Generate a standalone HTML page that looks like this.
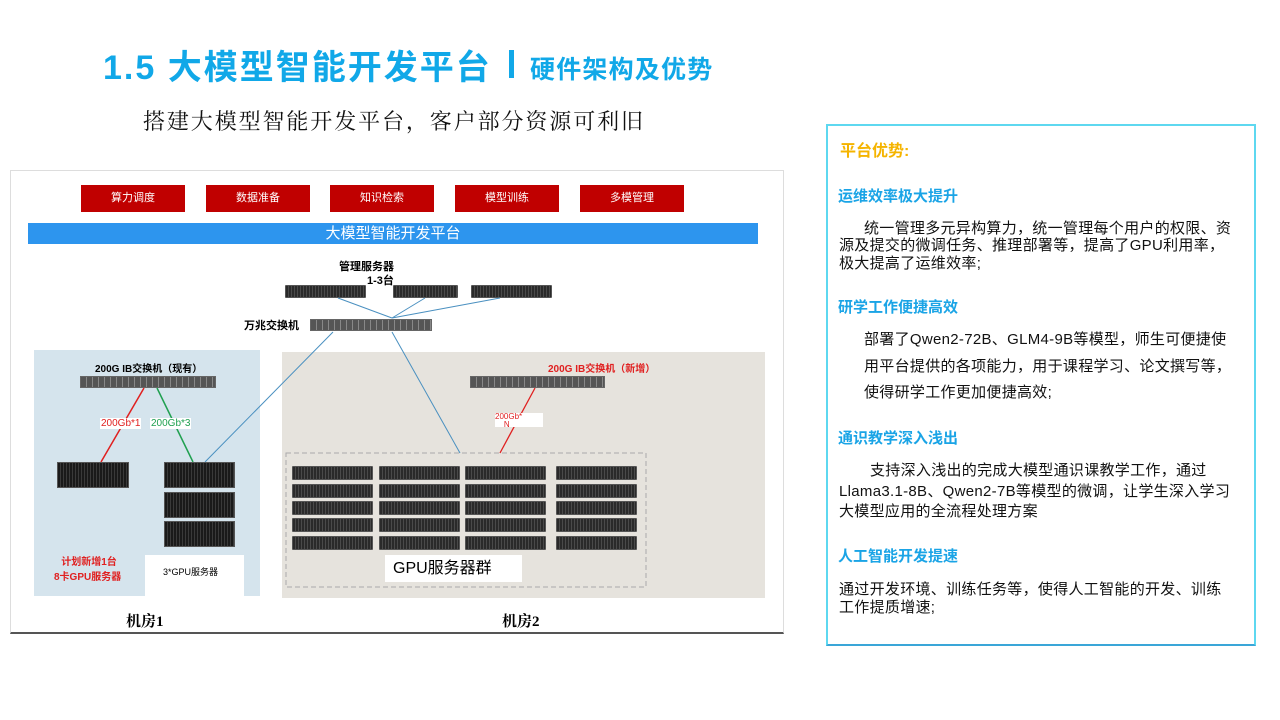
<!DOCTYPE html>
<html><head><meta charset="utf-8"><style>
*{margin:0;padding:0;box-sizing:border-box}
body{width:1280px;height:720px;background:#fff;position:relative;overflow:hidden;font-family:"Liberation Sans","Noto Sans CJK SC",sans-serif}
.a{position:absolute;white-space:nowrap}
.red{background:#c00000;color:#fff;font-size:11px;text-align:center;line-height:26px;height:27px;width:104px;top:185px}
.srv{position:absolute;background:repeating-linear-gradient(90deg,#2a2a2a 0 2px,#4a4a4a 2px 3px);border:1px solid #555;border-radius:1px}
.sw{position:absolute;background:repeating-linear-gradient(90deg,#555 0 5px,#888 5px 6px);border:1px solid #666}
.big{position:absolute;background:#222;border:1px solid #555;background-image:repeating-linear-gradient(90deg,#1a1a1a 0 2px,#3a3a3a 2px 3px)}
.h{color:#1aa4e6;font-weight:bold;font-size:15px}
.t{color:#111;font-size:15px;letter-spacing:0.3px}
</style></head><body>
<div class="a" style="left:103px;top:40px;font-size:34px;font-weight:bold;color:#11a8e8;letter-spacing:2px">1.5 大模型智能开发平台</div>
<div class="a" style="left:509px;top:50px;width:5px;height:28px;background:#11a8e8"></div>
<div class="a" style="left:530px;top:50px;font-size:25px;font-weight:bold;color:#11a8e8;letter-spacing:1.2px">硬件架构及优势</div>
<div class="a" style="left:143px;top:105px;font-size:22px;color:#111;letter-spacing:1.9px;font-family:'Liberation Serif','Noto Serif CJK SC',serif">搭建大模型智能开发平台，客户部分资源可利旧</div>

<div class="a" style="left:10px;top:170px;width:774px;height:464px;border:1px solid #ddd;border-bottom:2px solid #555"></div>
<div class="a red" style="left:81px">算力调度</div>
<div class="a red" style="left:206px">数据准备</div>
<div class="a red" style="left:330px">知识检索</div>
<div class="a red" style="left:455px">模型训练</div>
<div class="a red" style="left:580px">多模管理</div>
<div class="a" style="left:28px;top:223px;width:730px;height:21px;background:#2d95ee;color:#fff;font-size:15px;text-align:center;line-height:21px">大模型智能开发平台</div>

<div class="a" style="left:34px;top:350px;width:226px;height:246px;background:#d5e4ed"></div>
<div class="a" style="left:282px;top:352px;width:483px;height:246px;background:#e6e3dd"></div>

<div class="a" style="left:339px;top:258px;font-size:11px;font-weight:bold">管理服务器</div>
<div class="a" style="left:367px;top:272px;font-size:11px;font-weight:bold">1-3台</div>
<div class="srv" style="left:285px;top:285px;width:81px;height:13px"></div>
<div class="srv" style="left:393px;top:285px;width:65px;height:13px"></div>
<div class="srv" style="left:471px;top:285px;width:81px;height:13px"></div>
<div class="a" style="left:244px;top:317px;font-size:11px;font-weight:bold">万兆交换机</div>
<div class="sw" style="left:310px;top:319px;width:122px;height:12px"></div>

<div class="a" style="left:95px;top:360px;font-size:10px;font-weight:bold">200G IB交换机（现有）</div>
<div class="sw" style="left:80px;top:376px;width:136px;height:12px"></div>
<div class="a" style="left:548px;top:360px;font-size:10px;font-weight:bold;color:#e02020">200G IB交换机（新增）</div>
<div class="sw" style="left:470px;top:376px;width:135px;height:12px"></div>

<svg class="a" style="left:0;top:0" width="800" height="640">
<g stroke="#4a90c0" stroke-width="1" fill="none">
<line x1="338" y1="298" x2="392" y2="318"/><line x1="425" y1="298" x2="392" y2="318"/><line x1="500" y1="298" x2="392" y2="318"/>
<line x1="205" y1="462" x2="333" y2="332"/><line x1="392" y1="332" x2="460" y2="453"/>
</g>
<line x1="144" y1="388" x2="101" y2="462" stroke="#e02020" stroke-width="1.5"/>
<line x1="157" y1="388" x2="193" y2="462" stroke="#20a050" stroke-width="1.5"/>
<line x1="535" y1="388" x2="500" y2="453" stroke="#e02020" stroke-width="1.3"/>
<rect x="286" y="453" width="360" height="134" fill="none" stroke="#aaa" stroke-dasharray="5,3"/>
</svg>
<div class="a" style="left:100px;top:418px;background:#fff;color:#e02020;font-size:10px;padding:0 1px">200Gb*1</div>
<div class="a" style="left:150px;top:418px;background:#fff;color:#20a050;font-size:10px;padding:0 1px">200Gb*3</div>
<div class="a" style="left:495px;top:413px;width:48px;height:14px;background:#fff;color:#e02020;font-size:8px;line-height:8px">200Gb*<br>&nbsp;&nbsp;&nbsp;&nbsp;N</div>

<div class="big" style="left:57px;top:462px;width:72px;height:26px"></div>
<div class="big" style="left:164px;top:462px;width:71px;height:26px"></div>
<div class="big" style="left:164px;top:492px;width:71px;height:26px"></div>
<div class="big" style="left:164px;top:521px;width:71px;height:26px"></div>
<div class="a" style="left:54px;top:555px;font-size:10px;font-weight:bold;color:#e02020;text-align:center;line-height:15px">&nbsp;计划新增1台<br>8卡GPU服务器</div>
<div class="a" style="left:145px;top:555px;width:99px;height:41px;background:#fff;font-size:9px;line-height:34px;padding-left:18px">3*GPU服务器</div>

<div id="g"></div>
<script>
var xs=[292,379,465,556],ys=[466,484,501,518,536],h='';
xs.forEach(function(x){ys.forEach(function(y){h+='<div class="srv" style="left:'+x+'px;top:'+y+'px;width:81px;height:14px"></div>';});});
document.getElementById('g').innerHTML=h;
</script>
<div class="a" style="left:385px;top:555px;width:137px;height:27px;background:#fff;font-size:16px;line-height:27px;padding-left:8px">GPU服务器群</div>

<div class="a" style="left:126px;top:610px;font-size:15px;font-weight:bold;font-family:'Liberation Serif','Noto Serif CJK SC',serif">机房1</div>
<div class="a" style="left:502px;top:610px;font-size:15px;font-weight:bold;font-family:'Liberation Serif','Noto Serif CJK SC',serif">机房2</div>

<div class="a" style="left:826px;top:124px;width:430px;height:522px;border:2px solid #5ed8f0;border-bottom-color:#3aa6d8"></div>
<div class="a" style="left:840px;top:137px;font-size:16px;font-weight:bold;color:#f5b400">平台优势:</div>
<div class="a h" style="left:838px;top:185px">运维效率极大提升</div>
<div class="a t" style="left:864px;top:217px">统一管理多元异构算力，统一管理每个用户的权限、资</div>
<div class="a t" style="left:839px;top:234px">源及提交的微调任务、推理部署等，提高了GPU利用率，</div>
<div class="a t" style="left:839px;top:252px">极大提高了运维效率;</div>
<div class="a h" style="left:838px;top:296px">研学工作便捷高效</div>
<div class="a t" style="left:864px;top:328px">部署了Qwen2-72B、GLM4-9B等模型，师生可便捷使</div>
<div class="a t" style="left:864px;top:355px">用平台提供的各项能力，用于课程学习、论文撰写等，</div>
<div class="a t" style="left:864px;top:381px">使得研学工作更加便捷高效;</div>
<div class="a h" style="left:838px;top:427px">通识教学深入浅出</div>
<div class="a t" style="left:870px;top:459px">支持深入浅出的完成大模型通识课教学工作，通过</div>
<div class="a t" style="left:839px;top:480px">Llama3.1-8B、Qwen2-7B等模型的微调，让学生深入学习</div>
<div class="a t" style="left:839px;top:500px">大模型应用的全流程处理方案</div>
<div class="a h" style="left:838px;top:545px">人工智能开发提速</div>
<div class="a t" style="left:839px;top:578px">通过开发环境、训练任务等，使得人工智能的开发、训练</div>
<div class="a t" style="left:839px;top:596px">工作提质增速;</div>
</body></html>
